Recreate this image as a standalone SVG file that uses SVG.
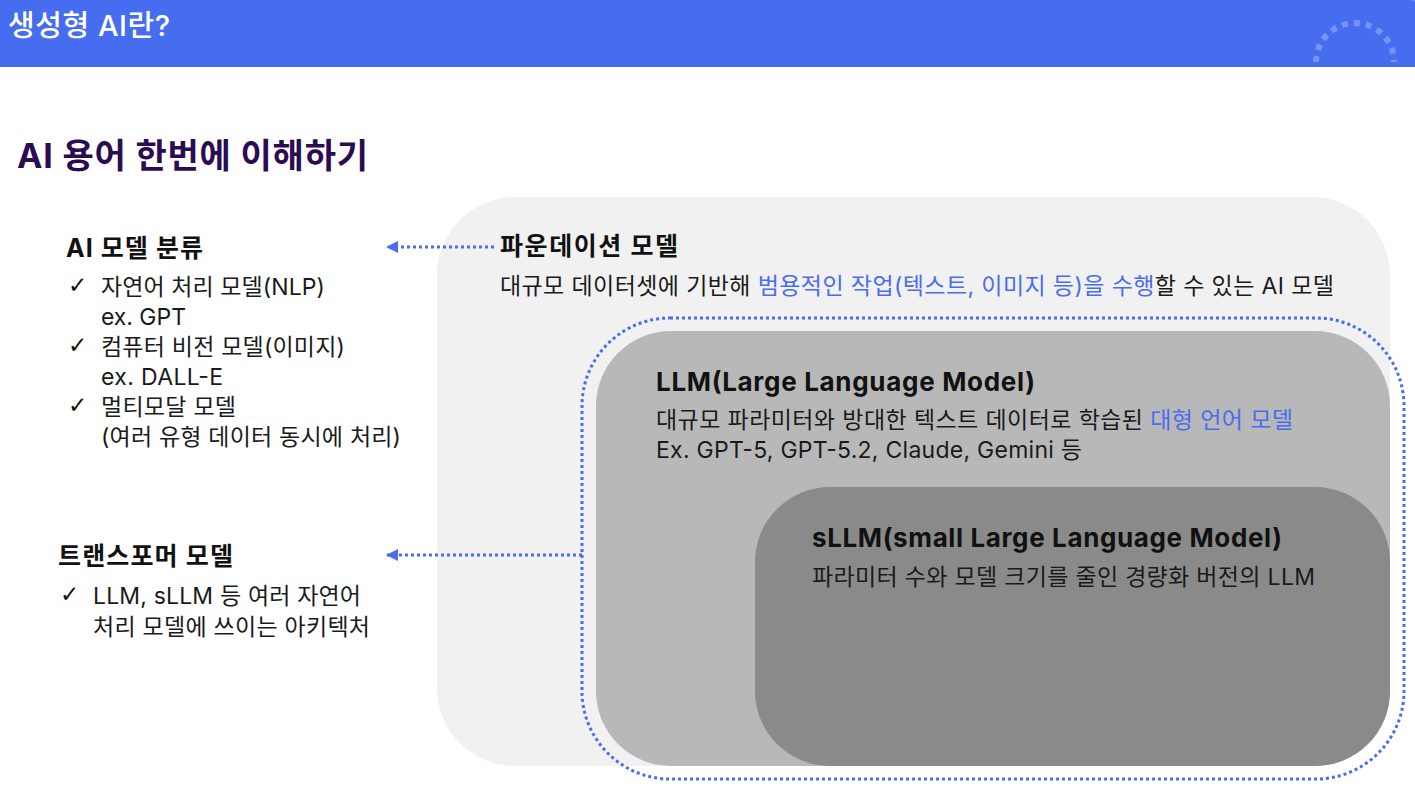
<svg xmlns="http://www.w3.org/2000/svg" width="1415" height="788" viewBox="0 0 1415 788">
<defs>
<style>
text{font-family:Inter,"Noto Sans CJK KR",sans-serif;}
.hd{font-size:25px;font-weight:700;fill:#111;}
.h2{font-size:26px;font-weight:700;fill:#111;}
.bd{font-size:23px;fill:#1a1a1a;}
.ck{font-size:23px;font-weight:700;fill:#111;font-family:"DejaVu Sans",sans-serif;}
.bl{fill:#4A6CF0;}
.dot{fill:none;stroke:#4A6CF0;stroke-width:3;stroke-dasharray:3 3;}
</style>
<marker id="ah" viewBox="0 0 10 10" refX="10" refY="5" markerUnits="userSpaceOnUse" markerWidth="12" markerHeight="12" orient="auto">
<path d="M0,0 L10,5 L0,10 Z" fill="#4A6CF0"/>
</marker>
</defs>
<rect width="1415" height="788" fill="#fff"/>
<g id="header">
<rect x="0" y="0" width="1415" height="67" fill="#466DF0"/>
<circle cx="1420" cy="-22" r="24" fill="#6F8BF3"/>
<path d="M1316,62 A39,39 0 0 1 1394,62" fill="none" stroke="#7893F4" stroke-width="6" stroke-dasharray="6 6"/>
<text x="8" y="36" font-size="29" font-weight="500" fill="#fff" textLength="162">생성형 AI란?</text>
</g>
<text x="17" y="168" font-size="34" font-weight="700" fill="#2B0B52" textLength="351">AI 용어 한번에 이해하기</text>
<g id="ai-model">
<text x="66" y="257" class="hd" textLength="137">AI 모델 분류</text>
<text x="68" y="293" class="ck">✓</text>
<text x="101" y="295" class="bd" textLength="224">자연어 처리 모델(NLP)</text>
<text x="101" y="325" class="bd" textLength="85">ex. GPT</text>
<text x="68" y="353" class="ck">✓</text>
<text x="101" y="355" class="bd" textLength="244">컴퓨터 비전 모델(이미지)</text>
<text x="101" y="385" class="bd" textLength="122">ex. DALL-E</text>
<text x="68" y="413" class="ck">✓</text>
<text x="101" y="415" class="bd" textLength="135">멀티모달 모델</text>
<text x="101" y="445" class="bd" textLength="300">(여러 유형 데이터 동시에 처리)</text>
</g>
<g id="transformer">
<text x="58" y="565" class="hd" textLength="175">트랜스포머 모델</text>
<text x="60" y="602" class="ck">✓</text>
<text x="93" y="604" class="bd" textLength="268">LLM, sLLM 등 여러 자연어</text>
<text x="93" y="635" class="bd" textLength="277">처리 모델에 쓰이는 아키텍처</text>
</g>
<g id="foundation">
<rect x="437" y="197" width="953" height="569" rx="78" fill="#F1F1F1"/>
<text x="500" y="255" class="hd" textLength="178">파운데이션 모델</text>
<text x="500" y="294" class="bd" textLength="834">대규모 데이터셋에 기반해 <tspan class="bl">범용적인 작업(텍스트, 이미지 등)을 수행</tspan>할 수 있는 AI 모델</text>
</g>
<g id="llm">
<rect x="596" y="331" width="794" height="435" rx="75" fill="#B8B8B8"/>
<text x="656" y="391" class="h2" textLength="379">LLM(Large Language Model)</text>
<text x="656" y="428" class="bd" textLength="637">대규모 파라미터와 방대한 텍스트 데이터로 학습된 <tspan class="bl">대형 언어 모델</tspan></text>
<text x="656" y="458" class="bd" textLength="426">Ex. GPT-5, GPT-5.2, Claude, Gemini 등</text>
</g>
<g id="sllm">
<rect x="755" y="487" width="635" height="279" rx="75" fill="#8A8A8A"/>
<text x="812" y="547" class="h2" textLength="470">sLLM(small Large Language Model)</text>
<text x="812" y="585" class="bd" textLength="503">파라미터 수와 모델 크기를 줄인 경량화 버전의 LLM</text>
</g>
<g id="connectors">
<rect x="582" y="318" width="822" height="461" rx="88" class="dot"/>
<line x1="494" y1="247" x2="386" y2="247" class="dot" marker-end="url(#ah)"/>
<line x1="582" y1="555" x2="386" y2="555" class="dot" marker-end="url(#ah)"/>
</g>
</svg>
